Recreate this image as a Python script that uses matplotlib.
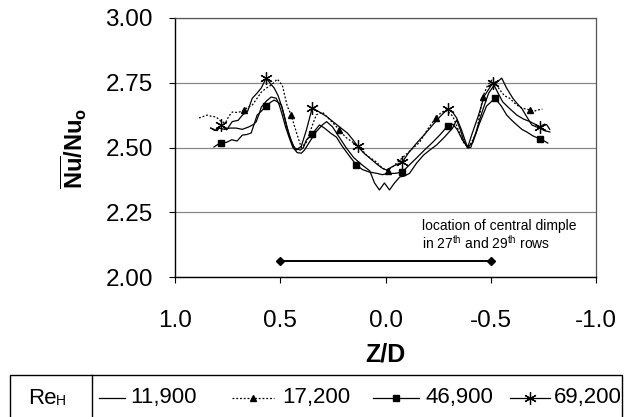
import numpy as np
import matplotlib
matplotlib.use("Agg")
import matplotlib.pyplot as plt
from matplotlib.lines import Line2D
from matplotlib.patches import Rectangle

plt.rcParams['font.family'] = ['Liberation Sans', 'DejaVu Sans']
plt.rcParams['mathtext.fontset'] = 'custom'
plt.rcParams['mathtext.rm'] = 'Liberation Sans'
plt.rcParams['mathtext.bf'] = 'Liberation Sans:bold'

# ---------------- data ----------------
z_11900 = [0.83, 0.81, 0.79, 0.765, 0.74, 0.71, 0.68, 0.648, 0.625, 0.614, 0.60, 0.59, 0.565,
           0.543, 0.519, 0.505, 0.49, 0.475, 0.457, 0.44, 0.419, 0.40, 0.385, 0.362, 0.33, 0.30,
           0.28, 0.252, 0.22, 0.186, 0.15, 0.11, 0.075, 0.052, 0.029, 0.005, -0.019, -0.04,
           -0.067, -0.09, -0.114, -0.148, -0.18, -0.21, -0.243, -0.28, -0.319, -0.338, -0.355,
           -0.37, -0.39, -0.405, -0.43, -0.46, -0.49, -0.52, -0.552, -0.575, -0.605, -0.625,
           -0.648, -0.67, -0.695, -0.715, -0.733, -0.755, -0.781]
v_11900 = [2.575, 2.565, 2.575, 2.57, 2.575, 2.575, 2.57, 2.58, 2.59, 2.60, 2.63, 2.656, 2.68,
           2.695, 2.69, 2.665, 2.625, 2.58, 2.537, 2.50, 2.48, 2.478, 2.49, 2.52, 2.56, 2.587,
           2.60, 2.58, 2.54, 2.498, 2.46, 2.432, 2.41, 2.363, 2.336, 2.363, 2.336, 2.36,
           2.386, 2.39, 2.40, 2.44, 2.47, 2.49, 2.51, 2.54, 2.575, 2.606, 2.57,
           2.53, 2.498, 2.50, 2.56, 2.64, 2.71, 2.745, 2.768, 2.73, 2.69, 2.67,
           2.65, 2.62, 2.587, 2.58, 2.575, 2.565, 2.56]

z_17200 = [0.886, 0.865, 0.848, 0.825, 0.805, 0.78, 0.76, 0.745, 0.728, 0.70, 0.671, 0.655,
           0.633, 0.61, 0.59, 0.565, 0.543, 0.514, 0.49, 0.467, 0.448, 0.424, 0.40, 0.376, 0.35,
           0.329, 0.30, 0.28, 0.25, 0.219, 0.19, 0.155, 0.124, 0.09, 0.043, 0.015, -0.01, -0.04,
           -0.08, -0.12, -0.162, -0.20, -0.238, -0.265, -0.29, -0.32, -0.345, -0.37, -0.395,
           -0.415, -0.433, -0.462, -0.485, -0.505, -0.525, -0.543, -0.565, -0.59, -0.615,
           -0.638, -0.66, -0.686, -0.705, -0.724, -0.745]
v_17200 = [2.614, 2.62, 2.625, 2.62, 2.618, 2.60, 2.595, 2.62, 2.637, 2.635, 2.645, 2.655,
           2.664, 2.69, 2.714, 2.73, 2.741, 2.764, 2.74, 2.66, 2.625, 2.56, 2.50, 2.52, 2.58,
           2.626, 2.637, 2.62, 2.595, 2.568, 2.54, 2.52, 2.502, 2.47, 2.444, 2.42, 2.41, 2.43,
           2.46, 2.49, 2.52, 2.57, 2.614, 2.635, 2.645, 2.62, 2.57, 2.52, 2.50,
           2.53, 2.56, 2.695, 2.74, 2.76, 2.745, 2.722, 2.70, 2.69, 2.67,
           2.656, 2.65, 2.645, 2.64, 2.645, 2.648]
m_17200 = [0.671, 0.448, 0.219, -0.01, -0.238, -0.462, -0.686]

z_46900 = [0.815, 0.80, 0.78, 0.755, 0.73, 0.705, 0.68, 0.66, 0.638, 0.61, 0.59, 0.567, 0.545,
           0.529, 0.51, 0.495, 0.48, 0.467, 0.45, 0.433, 0.405, 0.39, 0.376, 0.348, 0.314, 0.29,
           0.26, 0.233, 0.21, 0.186, 0.16, 0.138, 0.11, 0.076, 0.04, 0.015, -0.01, -0.045, -0.08,
           -0.11, -0.148, -0.185, -0.224, -0.26, -0.295, -0.32, -0.34, -0.365, -0.39, -0.415,
           -0.445, -0.48, -0.52, -0.55, -0.576, -0.60, -0.624, -0.648, -0.671, -0.70, -0.733,
           -0.755, -0.771]
v_46900 = [2.502, 2.51, 2.517, 2.52, 2.53, 2.525, 2.548, 2.55, 2.556, 2.625, 2.64, 2.66, 2.675,
           2.683, 2.675, 2.664, 2.62, 2.575, 2.53, 2.498, 2.49, 2.50, 2.529, 2.552, 2.587, 2.575,
           2.555, 2.54, 2.51, 2.483, 2.455, 2.432, 2.415, 2.405, 2.40, 2.395, 2.40, 2.40, 2.405,
           2.43, 2.46, 2.49, 2.52, 2.55, 2.583, 2.59, 2.57, 2.53, 2.50, 2.52,
           2.59, 2.66, 2.69, 2.66, 2.625, 2.605, 2.587, 2.57, 2.56, 2.545, 2.533,
           2.525, 2.517]
m_46900 = [0.78, 0.567, 0.348, 0.138, -0.08, -0.295, -0.52, -0.733]

z_69200 = [0.83, 0.80, 0.78, 0.755, 0.728, 0.70, 0.68, 0.655, 0.633, 0.61, 0.59, 0.567, 0.545,
           0.529, 0.51, 0.49, 0.475, 0.457, 0.44, 0.424, 0.40, 0.376, 0.348, 0.314, 0.28, 0.25,
           0.219, 0.18, 0.155, 0.133, 0.105, 0.076, 0.04, 0.015, -0.005, -0.03, -0.055, -0.08,
           -0.11, -0.148, -0.185, -0.224, -0.26, -0.295, -0.32, -0.338, -0.36, -0.39, -0.41,
           -0.44, -0.47, -0.51, -0.535, -0.557, -0.59, -0.624, -0.655, -0.686, -0.71, -0.733,
           -0.755, -0.767, -0.78]
v_69200 = [2.575, 2.565, 2.587, 2.568, 2.60, 2.605, 2.625, 2.64, 2.69, 2.71, 2.73, 2.768, 2.745,
           2.73, 2.70, 2.65, 2.60, 2.548, 2.51, 2.49, 2.505, 2.567, 2.653, 2.637, 2.62, 2.60,
           2.58, 2.555, 2.53, 2.506, 2.48, 2.46, 2.435, 2.42, 2.413, 2.425, 2.435, 2.444,
           2.48, 2.517, 2.55, 2.587, 2.62, 2.649, 2.635, 2.614, 2.57, 2.50, 2.55,
           2.62, 2.70, 2.749, 2.71, 2.676, 2.65, 2.625, 2.61, 2.60, 2.59, 2.58,
           2.59, 2.587, 2.57]
m_69200 = [0.78, 0.567, 0.348, 0.133, -0.08, -0.295, -0.51, -0.733]

dimple_z = [0.5, -0.5]
dimple_v = [2.062, 2.062]

x_ticks = [1.0, 0.5, 0.0, -0.5, -1.0]
x_ticklabels = ['1.0', '0.5', '0.0', '-0.5', '-1.0']
y_ticks = [2.00, 2.25, 2.50, 2.75, 3.00]
y_ticklabels = ['2.00', '2.25', '2.50', '2.75', '3.00']
legend_labels = ['11,900', '17,200', '46,900', '69,200']

# ---------------- figure ----------------
W, H = 629, 417
fig = plt.figure(figsize=(W / 100, H / 100), dpi=100)
ax = fig.add_axes([175 / W, 1 - 277 / H, (596 - 175) / W, (277 - 18) / H])


def idx(zs, ms):
    return [int(np.argmin(np.abs(np.array(zs) - m))) for m in ms]


lw = 0.9
ax.plot(z_11900, v_11900, color='black', lw=lw, zorder=3)
ax.plot(z_17200, v_17200, color='black', lw=lw, ls=(0, (1.5, 1.5)), marker='^', ms=5,
        markevery=idx(z_17200, m_17200), zorder=3)
ax.plot(z_46900, v_46900, color='black', lw=lw, marker='s', ms=5,
        markevery=idx(z_46900, m_46900), zorder=3)
ax.plot(z_69200, v_69200, color='black', lw=lw, marker=(6, 2, 0), ms=9, mew=0.9,
        markevery=idx(z_69200, m_69200), zorder=3)

ax.plot(dimple_z, dimple_v, color='black', lw=1.4, marker='D', ms=4, zorder=3)
ax.text(-0.175, 2.16, 'location of central dimple\nin 27$^{\\rm th}$ and 29$^{\\rm th}$ rows',
        fontsize=10, ha='left', va='center', linespacing=1.05)

ax.set_xlim(1.0, -1.0)
ax.set_ylim(2.0, 3.0)
ax.set_xticks(x_ticks)
ax.set_xticklabels(x_ticklabels)
ax.set_yticks(y_ticks)
ax.set_yticklabels(y_ticklabels)
ax.tick_params(axis='both', labelsize=17.5, direction='out', length=4, width=0.8, color='black')
ax.tick_params(axis='x', pad=20)
ax.tick_params(axis='y', pad=12)
ax.grid(axis='y', color='#888888', lw=0.9)
ax.set_axisbelow(True)
for s in ['left', 'bottom']:
    ax.spines[s].set_linewidth(1.0)
for s in ['top', 'right']:
    ax.spines[s].set_linewidth(0.9)
    ax.spines[s].set_color('#555555')

ax.set_xlabel('Z/D', fontsize=18, fontweight='bold', labelpad=7)
fig.text(74 / W, 1 - 148 / H, r'$\mathbf{\overline{Nu}/Nu_o}$', rotation=90,
         fontsize=17, ha='center', va='center')

# ---------------- legend box ----------------
box_top = 1 - 375 / H
fig.patches.append(Rectangle((10 / W, -0.05), (622 - 10) / W, box_top + 0.05,
                             transform=fig.transFigure, fill=False, ec='black', lw=1.0))
fig.add_artist(Line2D([92 / W, 92 / W], [-0.05, box_top], transform=fig.transFigure,
                      color='black', lw=1.0))
ty = 1 - 398 / H
fig.text(28 / W, ty, 'Re', fontsize=16, ha='left', va='center')
fig.text(56 / W, ty - 3 / H, 'H', fontsize=10, ha='left', va='center')

samples = [(99, 125), (232, 274), (373, 419), (510, 550)]
texts = [130, 282, 426, 554]
styles = [dict(ls='-', marker=None), dict(ls=(0, (1.5, 1.5)), marker='^', ms=5),
          dict(ls='-', marker='s', ms=5), dict(ls='-', marker=(6, 2, 0), ms=9, mew=0.9)]
for (x0, x1), tx, st, lab in zip(samples, texts, styles, legend_labels):
    fig.add_artist(Line2D([x0 / W, x1 / W], [ty, ty], transform=fig.transFigure,
                          color='black', lw=lw, ls=st['ls']))
    if st['marker']:
        fig.add_artist(Line2D([(x0 + x1) / 2 / W], [ty], transform=fig.transFigure,
                              color='black', marker=st['marker'], ms=st['ms'],
                              mew=st.get('mew', 1.0), ls='none'))
    fig.text(tx / W, ty, lab, fontsize=16, ha='left', va='center')

fig.savefig('out.png', dpi=100)
